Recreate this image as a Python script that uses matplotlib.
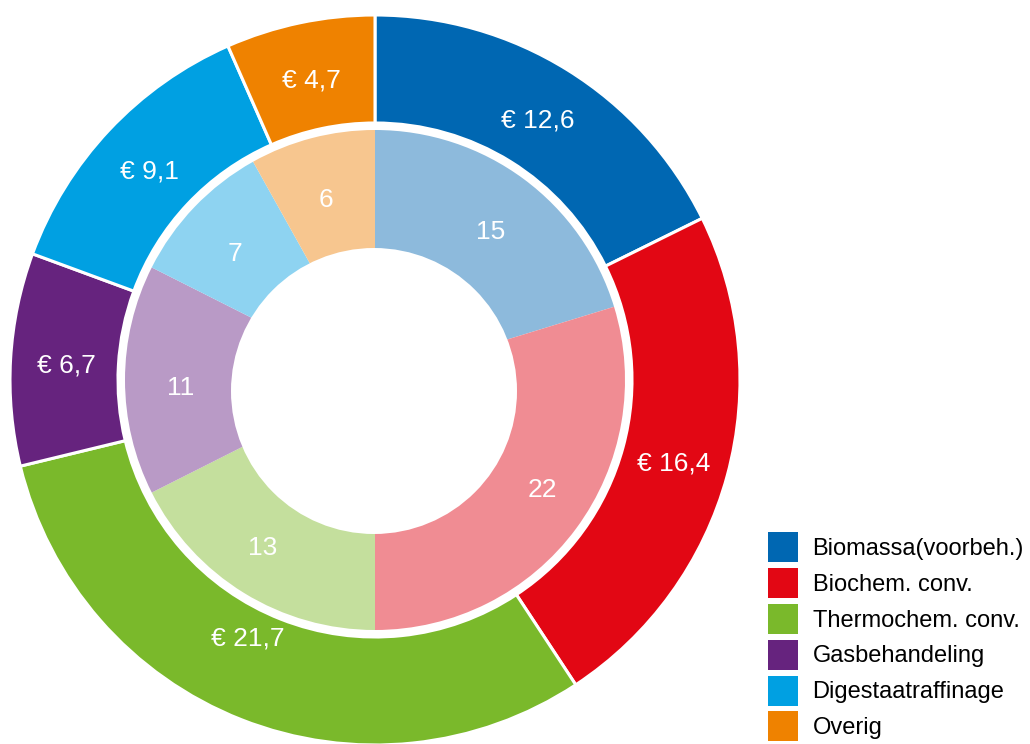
import numpy as np
import matplotlib
matplotlib.use("Agg")
import matplotlib.pyplot as plt
from matplotlib.patches import Circle, Patch

plt.rcParams['font.family'] = ['Liberation Sans', 'DejaVu Sans']

categories = ["Biomassa(voorbeh.)", "Biochem. conv.", "Thermochem. conv.",
              "Gasbehandeling", "Digestaatraffinage", "Overig"]
outer_values = [12.6, 16.4, 21.7, 6.7, 9.1, 4.7]
outer_labels = ["€ 12,6", "€ 16,4", "€ 21,7", "€ 6,7", "€ 9,1", "€ 4,7"]
inner_values = [15, 22, 13, 11, 7, 6]
inner_labels = ["15", "22", "13", "11", "7", "6"]

outer_colors = ["#0067B2", "#E20714", "#7AB92B", "#66237E", "#00A0E2", "#EF8200"]
inner_colors = ["#8DBADC", "#F08C93", "#C4DF9D", "#B99AC6", "#8ED3F1", "#F7C68F"]

W, H = 1030, 744
fig = plt.figure(figsize=(W / 100, H / 100), dpi=100)
ax = fig.add_axes([0, 0, 1, 1])

cx, cy = 375, H - 380
R_out, R_out_in = 365, 257
R_in = 250

outer_wedges, _ = ax.pie(outer_values, radius=R_out, center=(cx, cy), startangle=90,
                         counterclock=False, colors=outer_colors,
                         wedgeprops=dict(width=R_out - R_out_in, edgecolor="white",
                                         linewidth=2.2))
inner_wedges, _ = ax.pie(inner_values, radius=R_in, center=(cx, cy), startangle=90,
                         counterclock=False, colors=inner_colors,
                         wedgeprops=dict(linewidth=0))
ax.add_patch(Circle((cx - 1, cy - 11), 143, facecolor="white", edgecolor="none", zorder=5))

def place(wedges, labels, r, ox, oy, adjust=None):
    for i, (w, lab) in enumerate(zip(wedges, labels)):
        ang = np.deg2rad((w.theta1 + w.theta2) / 2)
        rr = r
        if adjust and i in adjust:
            dr, da = adjust[i]
            rr += dr
            ang += np.deg2rad(da)
        x = ox + rr * np.cos(ang)
        y = oy + rr * np.sin(ang)
        ax.text(x, y, lab, color="white", fontsize=19, ha="center", va="center", zorder=6)

place(outer_wedges, outer_labels, 309, cx, cy - 3, adjust={2: (-24, -5)})
place(inner_wedges, inner_labels, 194, cx, cy - 8, adjust={1: (2, 5), 2: (2, -3.5)})

ax.set_xlim(0, W)
ax.set_ylim(0, H)
ax.set_aspect("equal")
ax.axis("off")

handles = [Patch(facecolor=c, edgecolor="none") for c in outer_colors]
fig.legend(handles, categories, loc="upper left",
           bbox_to_anchor=(768 / W, 1 - 532 / H), frameon=False,
           fontsize=17, handlelength=1.27, handleheight=1.577,
           handletextpad=0.62, labelspacing=0.25, borderpad=0, borderaxespad=0)

fig.savefig("out.png", dpi=100, facecolor="white")
